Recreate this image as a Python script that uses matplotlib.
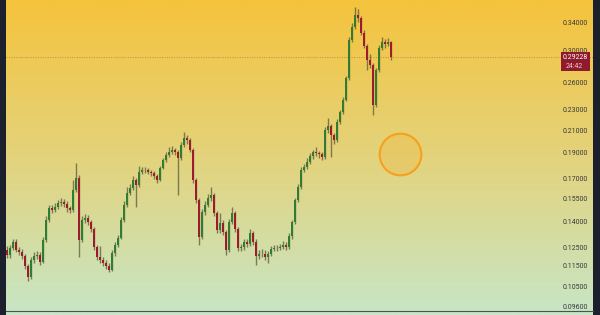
import numpy as np
import matplotlib
matplotlib.use("Agg")
import matplotlib.pyplot as plt
from matplotlib.colors import LinearSegmentedColormap
from matplotlib.patches import Rectangle
from matplotlib.transforms import blended_transform_factory

# candle data (log price scale)
first_open = 0.1240
closes = [0.1212, 0.1251, 0.1285, 0.1240, 0.1229, 0.1207, 0.1154, 0.1099, 0.1186, 0.1207,
          0.1212, 0.1175, 0.1296, 0.1417, 0.1494, 0.1481, 0.1501, 0.1528, 0.1535, 0.1521,
          0.1494, 0.1481, 0.1619, 0.1708, 0.1296, 0.1417, 0.1429, 0.1404, 0.1361, 0.1256,
          0.1201, 0.1186, 0.1170, 0.1154, 0.1134, 0.1223, 0.1268, 0.1308, 0.1417, 0.1514,
          0.1597, 0.1633, 0.1692, 0.1655, 0.1754, 0.1769, 0.1769, 0.1754, 0.1746, 0.1723,
          0.1692, 0.1785, 0.1849, 0.1891, 0.1917, 0.1934, 0.1917, 0.1866, 0.1977, 0.2039,
          0.2021, 0.1934, 0.1692, 0.1548, 0.1313, 0.1468, 0.1514, 0.1562, 0.1583, 0.1461,
          0.1355, 0.1398, 0.1343, 0.1240, 0.1404, 0.1461, 0.1361, 0.1251, 0.1256, 0.1285,
          0.1273, 0.1337, 0.1285, 0.1207, 0.1218, 0.1218, 0.1201, 0.1218, 0.1246, 0.1251,
          0.1251, 0.1256, 0.1268, 0.1256, 0.1320, 0.1404, 0.1548, 0.1640, 0.1769, 0.1793,
          0.1833, 0.1883, 0.1917, 0.1908, 0.1900, 0.1875, 0.2113, 0.2151, 0.2067, 0.2021,
          0.2190, 0.2289, 0.2415, 0.2662, 0.3152, 0.3340, 0.3523, 0.3476, 0.3252, 0.3070,
          0.2885, 0.2821, 0.2362, 0.2759, 0.3043, 0.3124, 0.3097, 0.3124, 0.29228]
highs = [0.1262, 0.1268, 0.1302, 0.1300, 0.1255, 0.1245, 0.1220, 0.1165, 0.1200, 0.1228,
         0.1235, 0.1230, 0.1312, 0.1440, 0.1515, 0.1512, 0.1525, 0.1552, 0.1560, 0.1556,
         0.1540, 0.1510, 0.1690, 0.1825, 0.1730, 0.1440, 0.1455, 0.1450, 0.1420, 0.1375,
         0.1270, 0.1260, 0.1200, 0.1185, 0.1170, 0.1240, 0.1285, 0.1325, 0.1435, 0.1540,
         0.1640, 0.1660, 0.1720, 0.1710, 0.1800, 0.1795, 0.1790, 0.1785, 0.1770, 0.1765,
         0.1740, 0.1800, 0.1870, 0.1915, 0.1960, 0.1965, 0.1950, 0.1935, 0.2000, 0.2094,
         0.2070, 0.2040, 0.1950, 0.1710, 0.1565, 0.1490, 0.1540, 0.1590, 0.1640, 0.1600,
         0.1475, 0.1460, 0.1420, 0.1355, 0.1425, 0.1500, 0.1475, 0.1375, 0.1275, 0.1300,
         0.1300, 0.1360, 0.1350, 0.1300, 0.1240, 0.1245, 0.1240, 0.1235, 0.1262, 0.1268,
         0.1266, 0.1272, 0.1290, 0.1285, 0.1335, 0.1420, 0.1565, 0.1660, 0.1790, 0.1815,
         0.1870, 0.1905, 0.1935, 0.1960, 0.1925, 0.1920, 0.2140, 0.2230, 0.2175, 0.2090,
         0.2220, 0.2315, 0.2450, 0.2690, 0.3190, 0.3400, 0.3655, 0.3620, 0.3510, 0.3290,
         0.3100, 0.2960, 0.2850, 0.2790, 0.3080, 0.3190, 0.3170, 0.3180, 0.3140]
lows = [0.1195, 0.1198, 0.1240, 0.1228, 0.1214, 0.1192, 0.1140, 0.1080, 0.1092, 0.1172,
        0.1190, 0.1160, 0.1168, 0.1285, 0.1405, 0.1462, 0.1468, 0.1488, 0.1510, 0.1500,
        0.1470, 0.1462, 0.1470, 0.1605, 0.1201, 0.1285, 0.1400, 0.1385, 0.1345, 0.1240,
        0.1185, 0.1170, 0.1155, 0.1140, 0.1123, 0.1128, 0.1210, 0.1255, 0.1300, 0.1405,
        0.1500, 0.1580, 0.1620, 0.1501, 0.1640, 0.1735, 0.1745, 0.1735, 0.1725, 0.1700,
        0.1670, 0.1685, 0.1775, 0.1835, 0.1875, 0.1900, 0.1895, 0.1583, 0.1850, 0.1960,
        0.1990, 0.1915, 0.1670, 0.1530, 0.1268, 0.1300, 0.1450, 0.1500, 0.1545, 0.1445,
        0.1340, 0.1340, 0.1325, 0.1212, 0.1230, 0.1390, 0.1345, 0.1235, 0.1235, 0.1240,
        0.1255, 0.1265, 0.1270, 0.1161, 0.1190, 0.1200, 0.1185, 0.1170, 0.1205, 0.1232,
        0.1235, 0.1238, 0.1245, 0.1240, 0.1245, 0.1305, 0.1395, 0.1535, 0.1625, 0.1750,
        0.1775, 0.1815, 0.1860, 0.1880, 0.1870, 0.1850, 0.1860, 0.2090, 0.1875, 0.1990,
        0.2005, 0.2170, 0.2270, 0.2400, 0.2640, 0.3120, 0.3310, 0.3420, 0.3220, 0.3040,
        0.2760, 0.2780, 0.2259, 0.2340, 0.2740, 0.3010, 0.3040, 0.3070, 0.2880]

tick_values = [0.38, 0.34, 0.30, 0.26, 0.23, 0.21, 0.19, 0.17, 0.155, 0.14, 0.125, 0.115, 0.105, 0.096]
last_price = 0.29228
countdown = "24:42"
circle_x, circle_y = 131, 0.19

fig = plt.figure(figsize=(6, 3.15), dpi=100, facecolor="#1B202C")
rect = [6 / 600, 0, 587 / 600, 1]

# background gradient
bg = fig.add_axes(rect, zorder=0)
cmap = LinearSegmentedColormap.from_list("bg", [(0, "#C7E6C6"), (0.5, "#E3D37C"), (1, "#F5C33C")])
bg.imshow(np.linspace(0, 1, 256).reshape(-1, 1), cmap=cmap, origin="lower", aspect="auto",
          extent=[0, 1, 0, 1])
bg.axis("off")

ax = fig.add_axes(rect, zorder=1)
ax.patch.set_alpha(0)
ax.set_yscale("log")
ax.set_xlim(-0.33, 195.33)
ax.set_ylim(0.0929, 0.3766)
ax.axis("off")

o = np.array([first_open] + closes[:-1])
c = np.array(closes)
idx = np.arange(len(c))
colors = np.where(c >= o, "#2E7D32", "#A01A2E")
ax.vlines(idx, lows, highs, color="#65623F", lw=1.0, alpha=0.8, zorder=2)
ax.bar(idx, np.abs(c - o), bottom=np.minimum(o, c), width=0.7, color=colors, linewidth=0, zorder=3)

ax.axhline(last_price, color="#D0883A", lw=0.7, ls=(0, (1, 1.5)), zorder=1)

tr = blended_transform_factory(ax.transAxes, ax.transData)
for v in tick_values:
    ax.text(0.9915, v, f"{v:.5f}", transform=tr, ha="right", va="center",
            fontsize=5, family="Roboto", color="#3A3A3A", zorder=4)

ax.plot([0, 1], [4 / 315, 4 / 315], transform=ax.transAxes, color="#505050", lw=0.8, clip_on=False)

# last price label
lo, hi = ax.get_ylim()
yf = (np.log(last_price) - np.log(lo)) / (np.log(hi) - np.log(lo))
ax.add_patch(Rectangle((0.9455, yf - 14 / 315), 0.0495, 19 / 315, transform=ax.transAxes,
                       facecolor="#8E1A2C", edgecolor="none", zorder=5))
ax.text(0.9915, yf, f"{last_price:.5f}", transform=ax.transAxes, ha="right", va="center",
        fontsize=5, family="Roboto", color="white", zorder=6)
ax.text(0.9915 - 0.008, yf - 9 / 315, countdown, transform=ax.transAxes, ha="right", va="center",
        fontsize=5, family="Roboto", color="#F2C6CC", zorder=6)

ax.scatter([circle_x], [circle_y], s=900, facecolor=(0.97, 0.66, 0.15, 0.22),
           edgecolor="#F5A01E", linewidth=1.5, zorder=5)

fig.savefig("out.png", dpi=100)
